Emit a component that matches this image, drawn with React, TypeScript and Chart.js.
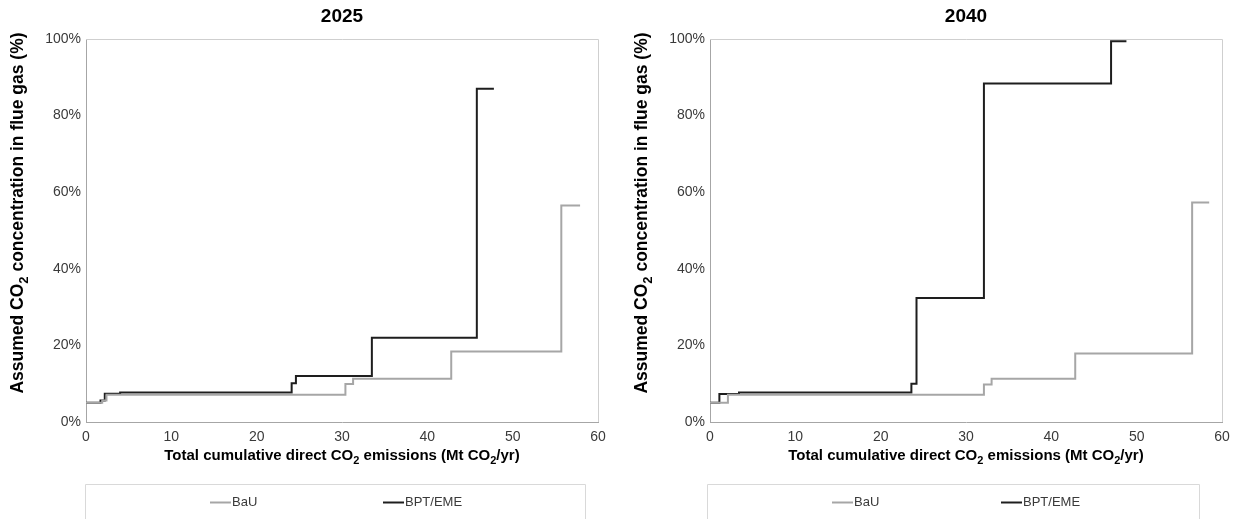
import React, { useEffect, useRef } from "react";
import { Chart, registerables } from "chart.js";

Chart.register(...registerables);

// ---- data ----
const seriesNames = ["BaU", "BPT/EME"];
const seriesColors = ["#a6a6a6", "#1e1e1e"];
const xTickValues = [0, 10, 20, 30, 40, 50, 60];
const yTickValues = [0, 20, 40, 60, 80, 100];
const chartTitles = ["2025", "2040"];

// 2025 panel (x: Mt CO2/yr cumulative, y: % CO2)
const bau2025X = [0, 1.9, 2.4, 30.4, 31.3, 42.8, 55.7, 57.9];
const bau2025Y = [5.0, 5.6, 7.1, 9.9, 11.3, 18.4, 56.5, 56.5];
const bpt2025X = [0, 1.7, 2.2, 4.0, 24.1, 24.6, 33.5, 45.8, 47.8];
const bpt2025Y = [5.0, 5.6, 7.4, 7.7, 10.1, 12.0, 22.0, 87.0, 87.0];

// 2040 panel
const bau2040X = [0, 2.1, 32.1, 33.0, 42.8, 56.5, 58.5];
const bau2040Y = [5.0, 7.1, 9.8, 11.3, 17.9, 57.3, 57.3];
const bpt2040X = [0, 1.1, 3.4, 23.6, 24.2, 32.1, 47.0, 48.8];
const bpt2040Y = [5.0, 7.3, 7.7, 10.0, 32.4, 88.4, 99.4, 99.4];

const FONT = '"Liberation Sans", Arial, Helvetica, sans-serif';

type Seg = { t: string; sub?: boolean };
const xTitleSegs: Seg[] = [
  { t: "Total cumulative direct CO" },
  { t: "2", sub: true },
  { t: " emissions (Mt CO" },
  { t: "2", sub: true },
  { t: "/yr)" },
];
const yTitleSegs: Seg[] = [
  { t: "Assumed CO" },
  { t: "2", sub: true },
  { t: " concentration in flue gas (%)" },
];

function drawRich(ctx: CanvasRenderingContext2D, segs: Seg[], cx: number, cy: number, size: number, rotate: boolean) {
  ctx.save();
  ctx.translate(cx, cy);
  if (rotate) ctx.rotate(-Math.PI / 2);
  const font = (sub?: boolean) => `bold ${sub ? Math.round(size * 0.75) : size}px ${FONT}`;
  let total = 0;
  for (const s of segs) {
    ctx.font = font(s.sub);
    total += ctx.measureText(s.t).width;
  }
  let x = -total / 2;
  ctx.textBaseline = "middle";
  ctx.textAlign = "left";
  ctx.fillStyle = "#000000";
  for (const s of segs) {
    ctx.font = font(s.sub);
    ctx.fillText(s.t, x, s.sub ? size * 0.32 : 0);
    x += ctx.measureText(s.t).width;
  }
  ctx.restore();
}

type Panel = {
  left: number;
  width: number;
  title: string;
  xs: number[][];
  ys: number[][];
  yAxisWidth: number;
  padRight: number;
  legend: { boxLeft: number; boxRight: number; item1: number; item2: number };
};

function StepChart({ panel }: { panel: Panel }) {
  const ref = useRef<HTMLCanvasElement | null>(null);
  useEffect(() => {
    if (!ref.current) return;
    const datasets = seriesNames.map((name, i) => ({
      label: name,
      data: panel.xs[i].map((x, k) => ({ x, y: panel.ys[i][k] })),
      borderColor: seriesColors[i],
      backgroundColor: seriesColors[i],
      borderWidth: 2,
      pointRadius: 0,
      stepped: "before" as const,
      fill: false,
    }));

    const decor = {
      id: "decor",
      beforeDatasetsDraw(chart: any) {
        const { ctx, chartArea: a } = chart;
        ctx.save();
        ctx.strokeStyle = "#cfcfcf";
        ctx.lineWidth = 1;
        ctx.beginPath();
        const t = Math.round(a.top) + 0.5;
        const r = Math.round(a.right) + 0.5;
        ctx.moveTo(a.left, t);
        ctx.lineTo(r, t);
        ctx.lineTo(r, a.bottom);
        ctx.stroke();
        ctx.restore();
      },
      afterDraw(chart: any) {
        const { ctx, chartArea: a } = chart;
        const cx = (a.left + a.right) / 2;
        ctx.save();
        ctx.font = `bold 19px ${FONT}`;
        ctx.fillStyle = "#000";
        ctx.textAlign = "center";
        ctx.textBaseline = "middle";
        ctx.fillText(panel.title, cx, 17);
        ctx.restore();

        drawRich(ctx, xTitleSegs, cx, 456, 15, false);
        drawRich(ctx, yTitleSegs, a.left - 67.5, 213, 17.5, true);

        // legend box
        const L = panel.legend;
        ctx.save();
        ctx.strokeStyle = "#d9d9d9";
        ctx.lineWidth = 1;
        ctx.beginPath();
        ctx.moveTo(L.boxLeft + 0.5, 530);
        ctx.lineTo(L.boxLeft + 0.5, 484.5);
        ctx.lineTo(L.boxRight + 0.5, 484.5);
        ctx.lineTo(L.boxRight + 0.5, 530);
        ctx.stroke();
        const ly = 502.5;
        [L.item1, L.item2].forEach((ix, i) => {
          ctx.strokeStyle = seriesColors[i];
          ctx.lineWidth = 2;
          ctx.beginPath();
          ctx.moveTo(ix, ly);
          ctx.lineTo(ix + 21, ly);
          ctx.stroke();
          ctx.fillStyle = "#3a3a3a";
          ctx.font = `13px ${FONT}`;
          ctx.textAlign = "left";
          ctx.textBaseline = "middle";
          ctx.fillText(seriesNames[i], ix + 22, ly);
        });
        ctx.restore();
      },
    };

    const chart = new Chart(ref.current, {
      type: "line",
      data: { datasets },
      plugins: [decor],
      options: {
        animation: false,
        responsive: false,
        maintainAspectRatio: false,
        events: [],
        layout: { padding: { left: 0, right: panel.padRight, top: 39, bottom: 60 } },
        plugins: {
          legend: { display: false },
          title: { display: false },
          tooltip: { enabled: false },
        },
        scales: {
          x: {
            type: "linear",
            min: 0,
            max: 60,
            afterBuildTicks: (scale: any) => {
              scale.ticks = xTickValues.map((v) => ({ value: v }));
            },
            afterFit: (scale: any) => {
              scale.height = 37;
            },
            grid: { display: false, drawTicks: false },
            border: { display: true, color: "#a6a6a6", width: 1 },
            ticks: {
              padding: 7,
              color: "#3a3a3a",
              font: { family: FONT, size: 14 },
              maxRotation: 0,
              autoSkip: false,
            },
          },
          y: {
            type: "linear",
            min: 0,
            max: 100,
            afterBuildTicks: (scale: any) => {
              scale.ticks = yTickValues.map((v) => ({ value: v }));
            },
            afterFit: (scale: any) => {
              scale.width = panel.yAxisWidth;
            },
            grid: { display: false, drawTicks: false },
            border: { display: true, color: "#a6a6a6", width: 1 },
            ticks: {
              padding: 5,
              color: "#3a3a3a",
              font: { family: FONT, size: 14 },
              callback: (v: any) => `${v}%`,
            },
          },
        },
      } as any,
    });
    return () => chart.destroy();
  }, [panel]);

  return (
    <canvas
      ref={ref}
      width={panel.width}
      height={519}
      style={{ position: "absolute", left: panel.left, top: 0, width: panel.width, height: 519, display: "block" }}
    />
  );
}

const panels: Panel[] = [
  {
    left: 0,
    width: 620,
    title: chartTitles[0],
    xs: [bau2025X, bpt2025X],
    ys: [bau2025Y, bpt2025Y],
    yAxisWidth: 86,
    padRight: 22,
    legend: { boxLeft: 85, boxRight: 585, item1: 210, item2: 383 },
  },
  {
    left: 620,
    width: 619,
    title: chartTitles[1],
    xs: [bau2040X, bpt2040X],
    ys: [bau2040Y, bpt2040Y],
    yAxisWidth: 90,
    padRight: 17,
    legend: { boxLeft: 87, boxRight: 579, item1: 212, item2: 381 },
  },
];

export default function App() {
  return (
    <div style={{ position: "absolute", left: 0, top: 0, width: 1239, height: 519, background: "#fff", overflow: "hidden" }}>
      {panels.map((p, i) => (
        <StepChart key={i} panel={p} />
      ))}
    </div>
  );
}
